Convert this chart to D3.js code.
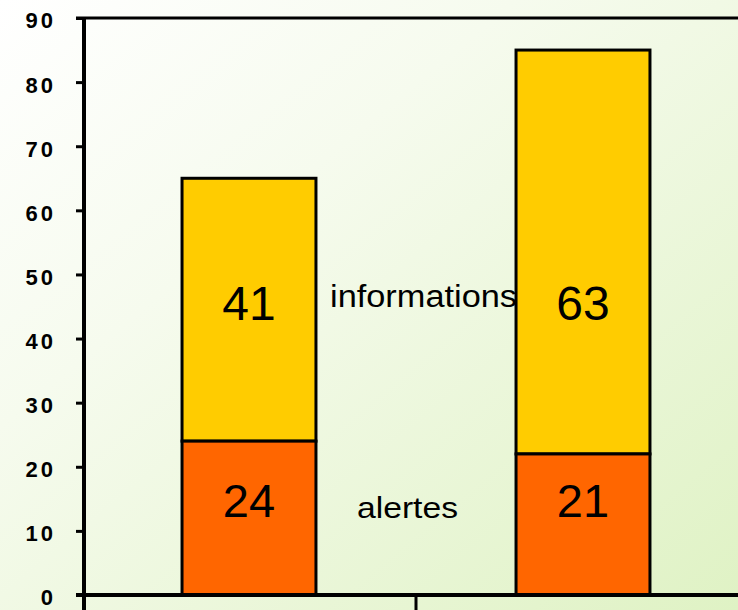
<!DOCTYPE html>
<html>
<head>
<meta charset="utf-8">
<script src="https://cdn.jsdelivr.net/npm/d3@7"></script>
<style>
  body { margin: 0; }
  svg { display: block; font-family: "Liberation Sans", Arial, sans-serif; }
</style>
</head>
<body>
<svg id="chart"></svg>
<script>
// data
var categories = ["1", "2"];
var alertes = [24, 22];
var informations = [41, 63];
var alertesLabels = ["24", "21"];
var informationsLabels = ["41", "63"];
var yTicks = [0, 10, 20, 30, 40, 50, 60, 70, 80, 90];

var width = 738, height = 610;
var svg = d3.select("#chart").attr("width", width).attr("height", height);

// soft green background
var defs = svg.append("defs");
var grad = defs.append("linearGradient")
    .attr("id", "bg")
    .attr("x1", "0%").attr("y1", "0%")
    .attr("x2", "100%").attr("y2", "100%");
grad.append("stop").attr("offset", "0%").attr("stop-color", "#ffffff");
grad.append("stop").attr("offset", "35%").attr("stop-color", "#f6fbee");
grad.append("stop").attr("offset", "100%").attr("stop-color", "#dff2c4");
svg.append("rect").attr("width", width).attr("height", height).attr("fill", "url(#bg)");

var x = d3.scaleBand()
    .domain(categories)
    .range([82, 750])
    .paddingInner(0.599)
    .paddingOuter(0.2995);

var y = d3.scaleLinear()
    .domain([0, 90])
    .range([595, 18]);

var bars = categories.map(function (c, i) {
    return { cat: c, a: alertes[i], info: informations[i], aLab: alertesLabels[i], iLab: informationsLabels[i] };
});

// rows where the texts sit
var infoRow = y(alertes[0] + informations[0] / 2);
var alertRow = y(alertes[0] / 2);

var g = svg.append("g");

// informations (top)
g.selectAll(".info")
    .data(bars)
    .enter()
    .append("rect")
    .attr("x", function (d) { return x(d.cat); })
    .attr("y", function (d) { return y(d.a + d.info); })
    .attr("width", x.bandwidth())
    .attr("height", function (d) { return y(d.a) - y(d.a + d.info); })
    .attr("fill", "#ffcc00")
    .attr("stroke", "#000")
    .attr("stroke-width", 3);

// alertes (bottom)
g.selectAll(".alerte")
    .data(bars)
    .enter()
    .append("rect")
    .attr("x", function (d) { return x(d.cat); })
    .attr("y", function (d) { return y(d.a); })
    .attr("width", x.bandwidth())
    .attr("height", function (d) { return y(0) - y(d.a); })
    .attr("fill", "#ff6600")
    .attr("stroke", "#000")
    .attr("stroke-width", 3);

// value labels
g.selectAll(".ilab")
    .data(bars)
    .enter()
    .append("text")
    .attr("x", function (d) { return x(d.cat) + x.bandwidth() / 2; })
    .attr("y", infoRow + 10)
    .attr("text-anchor", "middle")
    .style("font-size", "48px")
    .text(function (d) { return d.iLab; });

g.selectAll(".alab")
    .data(bars)
    .enter()
    .append("text")
    .attr("x", function (d) { return x(d.cat) + x.bandwidth() / 2; })
    .attr("y", alertRow - 1)
    .attr("text-anchor", "middle")
    .style("font-size", "47px")
    .text(function (d) { return d.aLab; });

// series names between the bars
svg.append("text")
    .attr("x", 330)
    .attr("y", infoRow - 3)
    .attr("textLength", 187)
    .attr("lengthAdjust", "spacingAndGlyphs")
    .style("font-size", "31px")
    .text("informations");
svg.append("text")
    .attr("x", 357)
    .attr("y", alertRow)
    .attr("textLength", 101)
    .attr("lengthAdjust", "spacingAndGlyphs")
    .style("font-size", "30px")
    .text("alertes");

// y axis
var yAxis = d3.axisLeft(y)
    .tickValues(yTicks)
    .tickSize(8)
    .tickPadding(20)
    .tickFormat(d3.format("d"));

var ya = svg.append("g")
    .attr("transform", "translate(84,0)")
    .call(yAxis);
ya.select(".domain").remove();
ya.selectAll(".tick line").attr("stroke", "#000").attr("stroke-width", 3);
ya.selectAll(".tick text")
    .attr("fill", "#000")
    .attr("dy", "0.45em")
    .style("font-size", "22px")
    .style("font-weight", "bold")
    .style("letter-spacing", "3px")
    .style("font-family", "'Liberation Sans', Arial, sans-serif");

// frame lines
svg.append("line").attr("x1", 84).attr("x2", 84).attr("y1", 17).attr("y2", height)
    .attr("stroke", "#000").attr("stroke-width", 4);
svg.append("line").attr("x1", 76).attr("x2", width).attr("y1", y(90)).attr("y2", y(90))
    .attr("stroke", "#000").attr("stroke-width", 3);
svg.append("line").attr("x1", 76).attr("x2", width).attr("y1", y(0)).attr("y2", y(0))
    .attr("stroke", "#000").attr("stroke-width", 4);

// category divider tick
var divX = x(categories[0]) + x.step() / 2 + x.bandwidth() / 2;
svg.append("line")
    .attr("x1", divX).attr("x2", divX)
    .attr("y1", y(0)).attr("y2", height)
    .attr("stroke", "#000").attr("stroke-width", 3);
</script>
</body>
</html>
